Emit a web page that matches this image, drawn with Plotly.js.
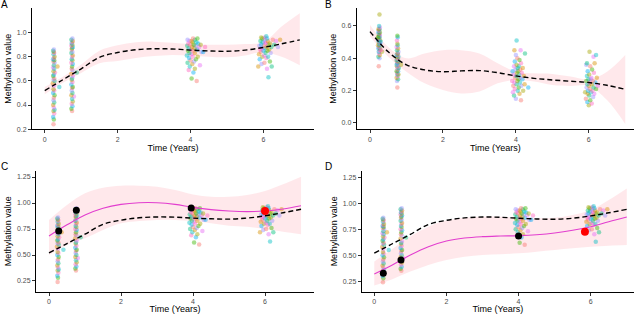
<!DOCTYPE html>
<html><head><meta charset="utf-8">
<script src="https://cdn.plot.ly/plotly-3.0.1.min.js"></script>
<style>html,body{margin:0;padding:0;background:#fff}#chart{width:640px;height:314px}</style>
</head><body><div id="chart"></div>
<script>
// ---------- shared sample data (panels A, C, D) ----------
const a1_x=[0.24,0.25,0.23,0.26,0.24,0.27,0.25,0.23,0.26,0.24,0.25,0.27,0.23,0.26,0.24,0.40,0.25,0.22,0.27,0.24,0.26,0.23,0.25,0.28,0.24,0.26,0.23,0.35,0.25,0.27,0.24,0.26,0.23,0.25,0.27,0.24,0.26,0.25,0.23,0.25];
const a1_y=[0.24,0.28,0.30,0.33,0.35,0.36,0.38,0.40,0.42,0.44,0.46,0.48,0.50,0.52,0.53,0.55,0.56,0.58,0.60,0.61,0.62,0.64,0.65,0.67,0.68,0.70,0.71,0.72,0.73,0.75,0.76,0.77,0.78,0.79,0.80,0.82,0.83,0.84,0.85,0.86];
const a2_x=[0.75,0.73,0.76,0.74,0.77,0.75,0.80,0.73,0.76,0.74,0.75,0.77,0.73,0.76,0.74,0.75,0.77,0.73,0.88,0.76,0.74,0.75,0.77,0.73,0.76,0.74,0.75,0.77,0.73,0.76,0.74,0.75,0.77,0.73,0.76,0.74,0.75,0.77,0.73,0.76];
const a2_y=[0.35,0.37,0.39,0.41,0.43,0.45,0.47,0.48,0.50,0.52,0.54,0.55,0.57,0.59,0.61,0.62,0.64,0.66,0.67,0.69,0.70,0.72,0.74,0.75,0.77,0.78,0.80,0.81,0.83,0.84,0.86,0.87,0.88,0.89,0.90,0.91,0.92,0.93,0.94,0.95];
const a3_x=[4.17,4.03,4.08,3.95,4.12,3.98,4.26,4.05,3.92,4.10,4.00,4.15,3.96,4.06,4.20,3.90,4.02,4.12,3.97,4.30,4.08,3.93,4.18,4.01,4.11,3.95,4.24,4.04,3.91,4.14,3.99,4.09,4.21,3.94,4.06,4.16,3.97,4.03,4.12,3.92,4.07,4.19,4.35,4.40,4.28];
const a3_y=[0.60,0.62,0.67,0.69,0.70,0.72,0.73,0.74,0.75,0.76,0.77,0.78,0.79,0.80,0.80,0.81,0.82,0.83,0.83,0.84,0.85,0.85,0.86,0.86,0.87,0.87,0.88,0.88,0.89,0.89,0.90,0.90,0.91,0.91,0.92,0.92,0.93,0.93,0.94,0.94,0.95,0.95,0.84,0.88,0.90];
const a4_x=[6.14,6.10,5.86,6.23,5.95,6.03,6.18,5.90,6.08,5.97,6.13,6.02,5.88,6.06,6.20,5.93,6.11,6.00,5.91,6.16,6.04,5.96,6.09,6.22,5.89,6.01,6.14,5.94,6.07,6.18,5.98,6.05,6.12,5.92,6.02,6.26,5.97,6.10,6.04,5.94,6.08,6.35,6.46,6.30,6.40];
const a4_y=[0.63,0.70,0.72,0.72,0.74,0.75,0.76,0.78,0.79,0.80,0.80,0.81,0.82,0.83,0.83,0.84,0.85,0.85,0.86,0.86,0.87,0.87,0.88,0.88,0.89,0.89,0.90,0.90,0.91,0.91,0.92,0.92,0.93,0.93,0.94,0.94,0.95,0.95,0.96,0.96,0.97,0.93,0.94,0.90,0.88];
// ---------- panel B sample data ----------
const b1_x=[0.24,0.26,0.23,0.27,0.25,0.24,0.33,0.26,0.23,0.27,0.25,0.24,0.26,0.22,0.27,0.25,0.24,0.26,0.23,0.28,0.25,0.24,0.26,0.23,0.27,0.25,0.24,0.26,0.23,0.27,0.25,0.24,0.26,0.23,0.27,0.25,0.26,0.30,0.29,0.22];
const b1_y=[0.35,0.40,0.41,0.42,0.43,0.44,0.44,0.45,0.46,0.46,0.47,0.47,0.48,0.48,0.49,0.49,0.50,0.50,0.51,0.51,0.52,0.52,0.53,0.53,0.54,0.54,0.55,0.55,0.56,0.56,0.57,0.57,0.58,0.58,0.59,0.60,0.67,0.45,0.50,0.53];
const b2_x=[0.75,0.74,0.77,0.73,0.76,0.75,0.78,0.74,0.77,0.73,0.76,0.75,0.79,0.74,0.77,0.73,0.85,0.76,0.75,0.78,0.74,0.77,0.73,0.76,0.75,0.78,0.74,0.77,0.73,0.76,0.75,0.78,0.74,0.77,0.73,0.76,0.75,0.74,0.76,0.75];
const b2_y=[0.22,0.26,0.27,0.28,0.29,0.30,0.30,0.31,0.32,0.32,0.33,0.34,0.34,0.35,0.35,0.36,0.36,0.37,0.37,0.38,0.38,0.39,0.39,0.40,0.40,0.41,0.41,0.42,0.42,0.43,0.43,0.44,0.45,0.46,0.47,0.48,0.49,0.51,0.53,0.54];
const b3_x=[4.14,4.00,3.95,4.10,3.92,4.05,4.20,3.97,4.34,4.08,3.93,4.15,4.02,4.24,3.96,4.11,4.04,3.90,4.18,4.07,3.98,4.13,4.01,4.22,3.94,4.09,4.03,4.16,3.91,4.06,4.12,3.99,4.05,4.19,3.95,4.08,4.02,4.14,3.97,4.10,4.04,4.00,4.25,3.96,4.13,4.02];
const b3_y=[0.14,0.15,0.17,0.18,0.19,0.20,0.20,0.21,0.22,0.22,0.23,0.23,0.24,0.24,0.25,0.25,0.26,0.26,0.27,0.27,0.28,0.28,0.29,0.29,0.30,0.30,0.31,0.31,0.32,0.32,0.33,0.33,0.34,0.34,0.35,0.35,0.36,0.37,0.38,0.39,0.40,0.42,0.43,0.45,0.45,0.51];
const b4_x=[6.00,6.08,5.96,6.04,5.92,6.12,6.01,5.97,6.15,6.06,5.90,6.10,5.98,6.20,6.03,5.94,6.13,6.00,6.25,5.96,6.08,6.02,6.18,5.93,6.11,6.05,5.99,6.22,6.07,5.95,6.01,6.14,5.97,6.09,6.04,5.93,5.95,6.16,6.13,6.20,6.02];
const b4_y=[0.11,0.12,0.13,0.14,0.15,0.16,0.17,0.18,0.18,0.19,0.19,0.20,0.20,0.21,0.21,0.22,0.22,0.23,0.23,0.24,0.24,0.25,0.25,0.26,0.26,0.27,0.27,0.28,0.28,0.29,0.30,0.31,0.32,0.33,0.35,0.36,0.37,0.37,0.41,0.42,0.44];
// ---------- fitted curves ----------
const curveX=[0,0.5,1,1.5,2,2.5,3,3.5,4,4.5,5,5.5,6,6.5,7];
const popA=[0.52,0.61,0.70,0.795,0.835,0.858,0.866,0.864,0.855,0.848,0.845,0.855,0.877,0.907,0.94];
const popA_hi=[0.55,0.635,0.735,0.85,0.895,0.92,0.925,0.915,0.905,0.90,0.90,0.905,0.92,1.05,1.16];
const popA_lo=[0.49,0.585,0.665,0.745,0.765,0.79,0.805,0.815,0.808,0.80,0.795,0.81,0.84,0.80,0.73];
const popB=[0.565,0.44,0.36,0.328,0.317,0.322,0.324,0.311,0.291,0.276,0.266,0.258,0.25,0.233,0.208];
const popB_hi=[0.606,0.47,0.40,0.43,0.45,0.45,0.43,0.37,0.317,0.307,0.303,0.287,0.27,0.317,0.42];
const popB_lo=[0.534,0.41,0.317,0.245,0.204,0.183,0.194,0.245,0.266,0.256,0.235,0.229,0.229,0.142,-0.006];
const indC=[0.683,0.79,0.885,0.95,0.987,1.003,1.003,0.987,0.958,0.936,0.923,0.917,0.923,0.942,0.974];
const indC_hi=[0.837,0.98,1.093,1.147,1.167,1.167,1.157,1.125,1.083,1.06,1.06,1.077,1.115,1.18,1.253];
const indC_lo=[0.50,0.596,0.66,0.74,0.805,0.827,0.837,0.837,0.827,0.805,0.782,0.772,0.75,0.724,0.699];
const indD=[0.32,0.407,0.502,0.582,0.637,0.665,0.678,0.684,0.688,0.697,0.713,0.739,0.774,0.822,0.867];
const indD_hi=[0.44,0.56,0.68,0.774,0.832,0.86,0.87,0.87,0.86,0.854,0.86,0.886,0.934,1.03,1.141];
const indD_lo=[0.21,0.27,0.343,0.407,0.455,0.486,0.502,0.509,0.518,0.534,0.55,0.566,0.582,0.592,0.598];
// ---------- highlighted individuals ----------
const obsC_x=[0.27,0.76,3.95], obsC_y=[0.73,0.93,0.953];
const newC_x=[6.0], newC_y=[0.923];
const obsD_x=[0.25,0.74,4.0], obsD_y=[0.327,0.455,0.685];
const newD_x=[5.84], newD_y=[0.726];
const xTicks=[0,2,4,6];
const yTicksAB=[[0.2,0.4,0.6,0.8,1.0],[0.0,0.2,0.4,0.6]];
const yTicksCD=[0.25,0.5,0.75,1.0,1.25];

// ---------- build ----------
const palette=['#F8766D','#D89000','#A3A500','#39B600','#00BF7D','#00BFC4','#00B0F6','#9590FF','#E76BF3','#FF62BC'];
function cat(...arrs){return [].concat(...arrs);}
const aX=cat(a1_x,a2_x,a3_x,a4_x), aY=cat(a1_y,a2_y,a3_y,a4_y);
const bX=cat(b1_x,b2_x,b3_x,b4_x), bY=cat(b1_y,b2_y,b3_y,b4_y);
const aCol=aX.map((_,i)=>palette[(i*3)%10]);
const bCol=bX.map((_,i)=>palette[(i*7)%10]);
const ribbonFill='rgba(255,182,193,0.32)';
const magenta='#E23ECF';
const traces=[];
function ribbon(lo,hi,ax){
  traces.push({x:curveX,y:lo,xaxis:'x'+ax,yaxis:'y'+ax,mode:'lines',line:{width:0,shape:'spline'},hoverinfo:'skip',showlegend:false});
  traces.push({x:curveX,y:hi,xaxis:'x'+ax,yaxis:'y'+ax,mode:'lines',line:{width:0,shape:'spline'},fill:'tonexty',fillcolor:ribbonFill,hoverinfo:'skip',showlegend:false});
}
function pts(x,y,col,ax){
  traces.push({x:x,y:y,xaxis:'x'+ax,yaxis:'y'+ax,mode:'markers',marker:{size:4.5,color:col,opacity:0.45},showlegend:false});
}
function line(y,ax,style){
  traces.push(Object.assign({x:curveX,y:y,xaxis:'x'+ax,yaxis:'y'+ax,mode:'lines',showlegend:false},style));
}
const dashStyle={line:{color:'black',width:1.4,dash:'5px,3px',shape:'spline'}};
const solidStyle={line:{color:magenta,width:1.1,shape:'spline'}};
// A
ribbon(popA_lo,popA_hi,'');
pts(aX,aY,aCol,'');
line(popA,'',dashStyle);
// B
ribbon(popB_lo,popB_hi,'2');
pts(bX,bY,bCol,'2');
line(popB,'2',dashStyle);
// C
ribbon(indC_lo,indC_hi,'3');
pts(aX,aY,aCol,'3');
line(popA,'3',dashStyle);
line(indC,'3',solidStyle);
traces.push({x:obsC_x,y:obsC_y,xaxis:'x3',yaxis:'y3',mode:'markers',marker:{size:7,color:'black'},showlegend:false});
traces.push({x:newC_x,y:newC_y,xaxis:'x3',yaxis:'y3',mode:'markers',marker:{size:8,color:'#FF0000'},showlegend:false});
// D
ribbon(indD_lo,indD_hi,'4');
pts(aX,aY,aCol,'4');
line(popA,'4',dashStyle);
line(indD,'4',solidStyle);
traces.push({x:obsD_x,y:obsD_y,xaxis:'x4',yaxis:'y4',mode:'markers',marker:{size:7,color:'black'},showlegend:false});
traces.push({x:newD_x,y:newD_y,xaxis:'x4',yaxis:'y4',mode:'markers',marker:{size:8,color:'#FF0000'},showlegend:false});

const W=640,H=314;
const fnt='Liberation Sans, Arial, sans-serif';
function xa(l,r,range,anchor){
  return {domain:[l/W,r/W],range:range,anchor:anchor,showgrid:false,zeroline:false,showline:true,linecolor:'black',linewidth:1,
    ticks:'outside',ticklen:3,tickcolor:'#333',tickvals:xTicks,tickfont:{family:fnt,size:7,color:'#4D4D4D'},
    title:{text:'Time (Years)',font:{family:fnt,size:9,color:'black'},standoff:2}};
}
function ya(top,bot,range,anchor,tv,fmt){
  return {domain:[(H-bot)/H,(H-top)/H],range:range,anchor:anchor,showgrid:false,zeroline:false,showline:true,linecolor:'black',linewidth:1,
    ticks:'outside',ticklen:3,tickcolor:'#333',tickvals:tv,tickformat:fmt,tickfont:{family:fnt,size:7,color:'#4D4D4D'},
    title:{text:'Methylation value',font:{family:fnt,size:9,color:'black'},standoff:3}};
}
const layout={
  width:W,height:H,margin:{l:0,r:0,t:0,b:0},paper_bgcolor:'white',plot_bgcolor:'white',showlegend:false,
  font:{family:fnt},
  xaxis:xa(32,314,[-0.35,7.39],'y'),
  yaxis:ya(8.3,129.3,[0.199,1.201],'x',yTicksAB[0],'.1f'),
  xaxis2:xa(356.7,634,[-0.365,7.24],'y2'),
  yaxis2:ya(8.3,129.3,[-0.039,0.709],'x2',yTicksAB[1],'.1f'),
  xaxis3:xa(36,314,[-0.361,7.36],'y3'),
  yaxis3:ya(171,291.7,[0.147,1.308],'x3',yTicksCD,'.2f'),
  xaxis4:xa(361.7,634,[-0.349,7.20],'y4'),
  yaxis4:ya(171,291.7,[0.15,1.308],'x4',yTicksCD,'.2f'),
  annotations:[['A',4,5],['B',328,5],['C',4,166],['D',328,166]].map(([t,x,y])=>({text:t,x:x/W,y:(H-y)/H,xref:'paper',yref:'paper',
    showarrow:false,xanchor:'center',yanchor:'middle',font:{family:fnt,size:10,color:'black'}}))
};
Plotly.newPlot('chart',traces,layout,{staticPlot:true,displayModeBar:false});
</script></body></html>
